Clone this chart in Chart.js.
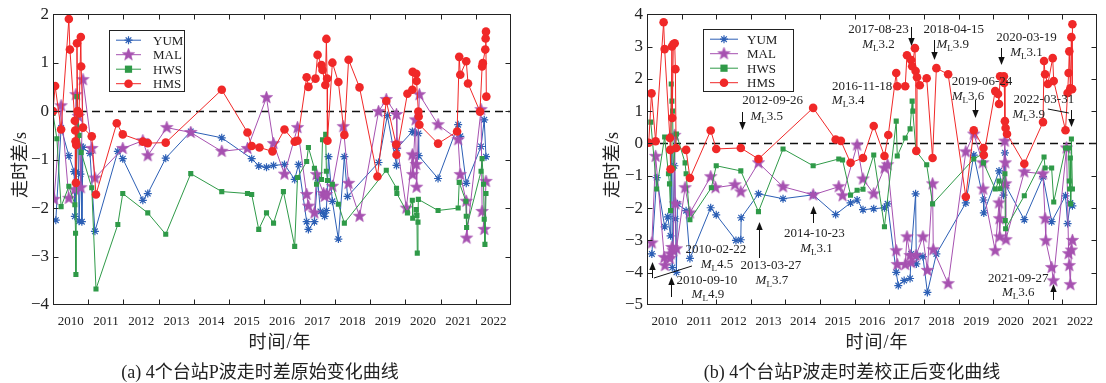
<!DOCTYPE html>
<html><head><meta charset="utf-8">
<script src="https://cdn.jsdelivr.net/npm/chart.js@4.4.1/dist/chart.umd.min.js"></script>
<style>
body{margin:0;background:#fff;width:1106px;height:383px;overflow:hidden;position:relative;}
canvas{position:absolute;top:0}
#ca{left:0px} #cb{left:600px}
.t{position:absolute;white-space:nowrap;color:#222;font-family:"Liberation Serif","Noto Sans CJK SC",serif;transform:translate(-50%,-50%);}
.rot{transform:translate(-50%,-50%) rotate(-90deg);}
</style></head><body>
<canvas id="ca" width="520" height="383"></canvas>
<canvas id="cb" width="506" height="383"></canvas>
<div class="t rot" style="left:18px;top:165px;font-size:18px">走时差/s</div>
<div class="t rot" style="left:610px;top:165px;font-size:18px">走时差/s</div>
<div class="t" style="left:280px;top:340px;font-size:18px;letter-spacing:1px">时间/年</div>
<div class="t" style="left:877px;top:340px;font-size:18px;letter-spacing:1px">时间/年</div>
<div class="t" style="left:260px;top:370px;font-size:18px">(a) 4个台站P波走时差原始变化曲线</div>
<div class="t" style="left:852px;top:370px;font-size:18px">(b) 4个台站P波走时差校正后变化曲线</div>
<script>
// ---------- DATA ----------
const stationNames = ['YUM','MAL','HWS','HMS'];
const yearTicksA = [2010,2011,2012,2013,2014,2015,2016,2017,2018,2019,2020,2021,2022,2023];

// Panel (a): raw travel-time differences [decimal year, seconds]
const yumA = [[2010.08,-2.25],[2010.23,-0.35],[2010.45,-0.92],[2010.60,-1.25],[2010.62,-2.17],[2010.66,-1.25],[2010.70,-0.05],[2010.74,-2.27],[2010.78,-1.3],[2010.80,-0.73],[2010.82,-2.28],[2010.85,-0.75],[2011.05,-0.87],[2011.19,-2.48],[2011.84,-0.83],[2011.98,-0.98],[2012.55,-1.84],[2012.69,-1.7],[2013.20,-0.97],[2013.91,-0.42],[2014.79,-0.55],[2015.64,-0.98],[2015.84,-1.13],[2016.06,-1.16],[2016.26,-1.12],[2016.57,-1.1],[2016.86,-1.41],[2016.97,-1.1],[2017.20,-2.28],[2017.25,-2.44],[2017.42,-2.28],[2017.51,-1.39],[2017.59,-2.07],[2017.68,-2.11],[2017.71,-2.17],[2017.76,-2.05],[2017.82,-0.94],[2017.93,-1.86],[2018.10,-2.64],[2018.27,-0.94],[2018.36,-1.76],[2019.24,-1.06],[2019.49,-0.09],[2019.75,-1.12],[2019.76,-0.77],[2020.20,-0.42],[2020.25,-0.44],[2020.37,-0.46],[2020.38,-0.92],[2020.93,-1.39],[2021.50,-0.28],[2021.56,-0.52],[2021.73,-1.49],[2022.15,-0.73],[2022.24,-0.18],[2022.29,-0.94]];
const malA = [[2010.03,-1.82],[2010.23,0.11],[2010.45,-1.80],[2010.62,-1.62],[2010.65,0.34],[2010.72,-0.11],[2010.79,-1.58],[2010.85,0.65],[2011.10,-0.77],[2011.19,-1.38],[2011.98,-0.77],[2012.55,-0.61],[2012.69,-0.92],[2013.23,-0.34],[2013.91,-0.44],[2014.79,-0.83],[2015.52,-0.77],[2016.06,0.28],[2016.26,-0.67],[2016.57,-1.3],[2016.94,-0.34],[2017.20,-1.72],[2017.25,-1.96],[2017.42,-2.10],[2017.48,-1.31],[2017.68,-1.70],[2017.71,-1.76],[2017.76,-1.72],[2017.93,-1.55],[2018.24,-0.32],[2018.39,-1.49],[2018.70,-2.17],[2019.24,-0.01],[2019.46,0.24],[2019.75,-0.07],[2019.76,-0.67],[2020.03,-2.0],[2020.20,-0.90],[2020.21,-1.31],[2020.29,-0.18],[2020.31,-1.10],[2020.32,-1.57],[2020.40,0.34],[2020.93,-0.28],[2021.50,-0.59],[2021.56,-1.31],[2021.73,-1.86],[2021.74,-2.62],[2022.15,0.03],[2022.18,-2.07],[2022.24,-2.44],[2022.29,-1.45]];
const hwsA = [[2010.00,-0.05],[2010.11,-0.57],[2010.23,-1.97],[2010.45,-1.55],[2010.62,-1.93],[2010.64,-2.52],[2010.65,-3.37],[2010.68,0.30],[2010.74,-0.50],[2010.80,-0.85],[2011.10,-1.58],[2011.22,-3.67],[2011.84,-2.34],[2011.98,-1.70],[2012.69,-2.10],[2013.20,-2.54],[2013.91,-1.29],[2014.79,-1.66],[2015.52,-1.70],[2015.64,-1.72],[2015.84,-2.44],[2016.06,-2.10],[2016.26,-2.31],[2016.54,-1.66],[2016.86,-2.79],[2016.94,-1.37],[2017.20,-1.04],[2017.25,-0.75],[2017.42,-1.18],[2017.48,-1.51],[2017.62,-1.41],[2017.65,-0.59],[2017.74,-0.48],[2017.76,-1.24],[2017.79,-1.43],[2017.93,-1.51],[2018.10,-1.92],[2018.27,-2.31],[2019.46,-1.22],[2019.75,-1.59],[2019.76,-1.70],[2020.06,-2.10],[2020.20,-1.84],[2020.21,-2.21],[2020.31,-2.03],[2020.33,-2.15],[2020.34,-2.93],[2020.36,-2.29],[2020.37,-1.82],[2020.93,-2.05],[2021.50,-2.00],[2021.53,-1.47],[2021.72,-1.86],[2021.73,-2.17],[2021.74,-2.40],[2022.15,-1.24],[2022.18,-0.98],[2022.22,-1.51],[2022.24,-2.23],[2022.26,-2.75],[2022.29,-1.70]];
const hmsA = [[2010.00,0.0],[2010.06,0.52],[2010.23,-0.38],[2010.45,1.9],[2010.48,1.27],[2010.62,-0.2],[2010.63,-0.4],[2010.64,-0.62],[2010.65,-1.48],[2010.66,-0.7],[2010.68,1.4],[2010.70,0.0],[2010.74,-0.05],[2010.79,1.53],[2010.80,0.92],[2010.85,-0.34],[2011.10,-0.52],[2011.22,-1.72],[2011.81,-0.25],[2011.98,-0.48],[2012.55,-0.63],[2012.69,-0.66],[2013.20,-0.65],[2014.79,0.44],[2015.52,-0.44],[2015.64,-0.72],[2015.86,-0.75],[2016.23,-0.83],[2016.57,-0.38],[2016.86,-0.63],[2016.94,-0.61],[2017.20,0.70],[2017.25,0.50],[2017.45,0.67],[2017.51,1.16],[2017.62,0.95],[2017.65,0.85],[2017.73,0.54],[2017.76,1.49],[2017.78,0.67],[2017.79,-0.61],[2017.93,1.0],[2018.10,0.6],[2018.27,-0.49],[2018.39,1.06],[2018.70,0.49],[2019.21,-1.35],[2019.46,0.21],[2019.74,-0.69],[2019.75,-0.9],[2020.06,0.36],[2020.20,0.44],[2020.21,0.81],[2020.31,0.77],[2020.32,0.62],[2020.37,-0.01],[2020.38,-0.11],[2020.40,-0.28],[2020.93,-0.67],[2021.47,-0.42],[2021.53,1.12],[2021.56,0.75],[2021.73,1.03],[2021.78,0.57],[2022.12,-0.01],[2022.18,0.92],[2022.20,0.99],[2022.27,1.27],[2022.28,1.5],[2022.29,1.64],[2022.30,0.3]];

// Panel (b): corrected travel-time differences
const yumB = [[2010.14,-3.42],[2010.28,-1.06],[2010.51,-2.58],[2010.60,-2.27],[2010.68,-2.86],[2010.72,-0.2],[2010.73,-3.84],[2010.79,-0.69],[2010.82,-2.33],[2010.85,-3.99],[2010.88,-1.87],[2011.13,-2.08],[2011.24,-3.56],[2011.84,-1.99],[2012.0,-2.21],[2012.57,-3.0],[2012.71,-2.98],[2012.72,-2.3],[2013.22,-1.56],[2013.93,-1.71],[2014.80,-1.59],[2015.45,-2.2],[2015.88,-1.84],[2016.07,-1.75],[2016.24,-2.05],[2016.55,-2.02],[2016.86,-1.99],[2016.95,-1.87],[2017.20,-3.99],[2017.26,-4.4],[2017.43,-4.24],[2017.60,-4.18],[2017.63,-3.42],[2017.76,-1.56],[2017.78,-3.73],[2017.82,-3.47],[2017.97,-3.5],[2018.10,-4.61],[2018.36,-3.42],[2019.21,-1.84],[2019.44,-0.36],[2019.72,-1.75],[2019.73,-2.15],[2020.17,-0.85],[2020.30,-1.6],[2020.34,-0.29],[2020.36,-1.3],[2020.9,-2.36],[2021.44,-1.03],[2021.69,-2.42],[2022.09,-1.62],[2022.15,-2.48],[2022.23,-1.84],[2022.29,-1.93]];
const malB = [[2010.14,-3.08],[2010.25,-0.4],[2010.50,-3.53],[2010.52,-3.78],[2010.66,-3.56],[2010.68,-3.42],[2010.72,-3.22],[2010.76,-3.32],[2010.80,0.25],[2010.82,-1.87],[2010.85,-3.26],[2011.10,-1.37],[2011.24,-2.15],[2011.84,-1.03],[2011.98,-1.37],[2012.54,-1.28],[2012.71,-1.5],[2013.22,-0.6],[2013.93,-1.34],[2014.80,-1.59],[2015.54,-1.34],[2015.65,-1.62],[2016.07,-0.05],[2016.24,-1.1],[2016.55,-1.56],[2016.86,-0.76],[2016.95,-0.66],[2017.20,-3.32],[2017.23,-3.75],[2017.46,-3.75],[2017.51,-2.89],[2017.60,-3.47],[2017.63,-3.69],[2017.77,-3.47],[2017.97,-2.89],[2018.10,-3.93],[2018.25,-1.25],[2018.27,-3.29],[2018.70,-4.34],[2019.21,-0.26],[2019.44,0.29],[2019.70,-0.6],[2019.71,-1.41],[2020.06,-3.32],[2020.17,-1.84],[2020.18,-2.33],[2020.19,-2.89],[2020.34,0.07],[2020.35,-0.6],[2020.36,-1.25],[2020.37,-2.98],[2020.90,-0.88],[2021.44,-0.94],[2021.50,-2.33],[2021.52,-3.01],[2021.69,-3.84],[2021.74,-4.25],[2022.12,-0.14],[2022.18,-3.41],[2022.20,-3.78],[2022.23,-4.37],[2022.26,-3.3],[2022.29,-3.0]];
const hwsB = [[2010.11,0.66],[2010.28,-1.41],[2010.51,0.2],[2010.62,-0.94],[2010.65,-1.25],[2010.68,-2.08],[2010.70,1.84],[2010.72,1.31],[2010.74,1.0],[2010.76,-0.76],[2010.85,0.29],[2011.10,-0.6],[2011.13,-0.94],[2011.24,-2.36],[2011.86,-1.37],[2012.0,-0.69],[2012.71,-0.85],[2013.22,-2.11],[2013.93,-0.17],[2014.80,-0.69],[2015.54,-0.48],[2015.65,-0.51],[2015.88,-1.6],[2016.07,-1.45],[2016.24,-1.42],[2016.55,-0.36],[2016.86,-2.58],[2017.20,0.69],[2017.23,-0.39],[2017.46,0.17],[2017.60,0.45],[2017.66,1.31],[2017.68,1.0],[2017.77,-0.23],[2018.08,-0.66],[2018.25,-1.87],[2019.44,-0.48],[2019.70,-0.32],[2019.72,-0.6],[2020.06,-1.41],[2020.17,-1.16],[2020.20,-1.4],[2020.34,-0.94],[2020.35,-2.39],[2020.36,-2.64],[2020.90,-1.62],[2021.47,-0.42],[2021.50,-0.76],[2021.69,-0.76],[2021.75,-1.81],[2022.09,-0.14],[2022.18,-0.14],[2022.20,-1.16],[2022.21,-1.41],[2022.23,-0.45],[2022.24,-1.87],[2022.26,0.14],[2022.29,-1.41]];
const hmsB = [[2010.05,0.02],[2010.13,1.55],[2010.25,0.07],[2010.48,3.75],[2010.51,2.92],[2010.66,0.17],[2010.67,-0.2],[2010.68,-0.8],[2010.72,3.0],[2010.73,0.79],[2010.76,3.07],[2010.80,3.1],[2010.82,2.3],[2010.84,-0.14],[2011.13,-0.2],[2011.24,-1.07],[2011.84,0.4],[2012.0,-0.17],[2012.71,-0.14],[2013.22,-0.48],[2014.8,1.1],[2015.45,0.12],[2015.6,0.08],[2015.88,-0.6],[2016.24,-0.45],[2016.55,0.54],[2016.86,-0.39],[2016.97,0.26],[2017.2,2.18],[2017.23,1.77],[2017.46,1.77],[2017.51,2.73],[2017.63,2.58],[2017.66,2.39],[2017.74,2.95],[2017.76,2.24],[2017.78,-0.23],[2017.80,2.05],[2017.88,1.8],[2018.08,2.02],[2018.25,-0.45],[2018.36,2.33],[2018.7,2.14],[2019.21,-1.65],[2019.44,0.41],[2019.72,-0.14],[2019.73,-0.36],[2020.06,1.62],[2020.14,1.53],[2020.17,1.22],[2020.2,2.08],[2020.31,2.08],[2020.32,1.87],[2020.34,0.69],[2020.36,0.48],[2020.4,0.29],[2020.9,-0.63],[2021.44,0.66],[2021.47,2.55],[2021.5,2.14],[2021.58,1.84],[2021.72,2.64],[2021.75,1.93],[2022.09,0.41],[2022.15,1.56],[2022.18,2.18],[2022.2,2.85],[2022.23,1.71],[2022.26,3.29],[2022.28,1.68],[2022.29,3.69]];

// Earthquake events annotated in panel (b)
const eventDates = ['2010-02-22','2010-09-10','2012-09-26','2013-03-27','2014-10-23','2016-11-18','2017-08-23','2018-04-15','2019-06-24','2020-03-19','2021-09-27','2022-03-31'];
const eventMags = ['4.5','4.9','3.5','3.7','3.1','3.4','3.2','3.9','3.6','3.1','3.6','3.9'];

// ---------- LAYOUT / STYLE ----------
const eventLayout = [
 {tdx:64, ty:250, mdx:65, my:265, a:[278,262], lead:[2,278,40,266]},
 {tdx:36, ty:281, mdx:37, my:295, a:[297,277]},
 {tdx:31, ty:101, mdx:25, my:117, a:[112,130]},
 {tdx:12, ty:266, mdx:13, my:281, a:[258,222]},
 {tdx:1, ty:234, mdx:3, my:249, a:[223,206]},
 {tdx:-23, ty:87, mdx:-37, my:101, a:null},
 {tdx:-33, ty:30, mdx:-33, my:45, a:[27,46]},
 {tdx:20, ty:30, mdx:19, my:45, a:[40,60]},
 {tdx:7, ty:82, mdx:-7, my:97, a:[100,118]},
 {tdx:26, ty:38, mdx:26, my:53, a:[48,65]},
 {tdx:-35, ty:279, mdx:-35, my:293, a:[300,284]},
 {tdx:-27, ty:100, mdx:-42, my:115, a:[110,127], lead:[-23,109,-2,113]}
];
const colors = {YUM:'#2c5fb5', MAL:'#a651b0', HWS:'#2f9a48', HMS:'#f02828'};
const SERIF = '"Liberation Serif", serif';

function starImg(color, r){
  const s = Math.ceil(r*2+2), c = document.createElement('canvas');
  c.width = c.height = s; const g = c.getContext('2d');
  g.beginPath();
  for(let i=0;i<10;i++){const a=-Math.PI/2+i*Math.PI/5, rr=i%2? r*0.42:r; g.lineTo(s/2+rr*Math.cos(a), s/2+rr*Math.sin(a));}
  g.closePath(); g.fillStyle=color; g.fill(); g.strokeStyle=color; g.lineWidth=0.6; g.stroke();
  return c;
}
const malStar = starImg(colors.MAL, 6.5);

function toXY(arr){ return arr.map(p=>({x:p[0], y:p[1]})); }
function makeDatasets(yum, mal, hws, hms){
  return [
    {label:'YUM', data:toXY(yum), borderColor:colors.YUM, backgroundColor:colors.YUM, borderWidth:1, pointStyle:'star', pointRadius:4, pointBorderWidth:1.2, pointBorderColor:colors.YUM, order:3},
    {label:'MAL', data:toXY(mal), borderColor:colors.MAL, backgroundColor:colors.MAL, borderWidth:1, pointStyle:malStar, pointRadius:6, order:2},
    {label:'HWS', data:toXY(hws), borderColor:colors.HWS, backgroundColor:colors.HWS, borderWidth:1, pointStyle:'rect', pointRadius:3.6, pointBorderWidth:0, order:1},
    {label:'HMS', data:toXY(hms), borderColor:colors.HMS, backgroundColor:colors.HMS, borderWidth:1, pointStyle:'circle', pointRadius:4.3, pointBorderWidth:0, order:0}
  ];
}

function drawMarker(ctx, name, x, y){
  const c = colors[name];
  ctx.save(); ctx.fillStyle=c; ctx.strokeStyle=c;
  if(name==='YUM'){ ctx.lineWidth=1.2; const r=4; ctx.beginPath();
    for(let k=0;k<4;k++){const a=k*Math.PI/4; ctx.moveTo(x-r*Math.cos(a),y-r*Math.sin(a)); ctx.lineTo(x+r*Math.cos(a),y+r*Math.sin(a));}
    ctx.stroke(); }
  else if(name==='MAL'){ ctx.drawImage(malStar, x-malStar.width/2, y-malStar.height/2); }
  else if(name==='HWS'){ ctx.fillRect(x-3.6,y-3.6,7.2,7.2); }
  else { ctx.beginPath(); ctx.arc(x,y,4.3,0,Math.PI*2); ctx.fill(); }
  ctx.restore();
}

function decYear(s){ const [Y,M,D]=s.split('-').map(Number); const a=Date.UTC(Y,0,1), b=Date.UTC(Y+1,0,1); return Y+(Date.UTC(Y,M-1,D)-a)/(b-a); }

function drawML(ctx, cx, y, mag){
  ctx.save(); ctx.textBaseline='middle'; ctx.fillStyle='#222';
  const fM='italic 13px '+SERIF, fL='9px '+SERIF, fN='13px '+SERIF;
  ctx.font=fM; const wM=ctx.measureText('M').width;
  ctx.font=fL; const wL=ctx.measureText('L').width;
  ctx.font=fN; const wN=ctx.measureText(mag).width;
  let x = cx-(wM+wL+wN)/2;
  ctx.textAlign='left';
  ctx.font=fM; ctx.fillText('M',x,y); x+=wM;
  ctx.font=fL; ctx.fillText('L',x,y+4); x+=wL;
  ctx.font=fN; ctx.fillText(mag,x,y);
  ctx.restore();
}
function arrow(ctx, x, y1, y2){
  const dir = y2>y1?1:-1;
  ctx.beginPath(); ctx.moveTo(x,y1); ctx.lineTo(x,y2-dir*6); ctx.stroke();
  ctx.beginPath(); ctx.moveTo(x,y2); ctx.lineTo(x-3.2,y2-dir*8); ctx.lineTo(x+3.2,y2-dir*8); ctx.closePath(); ctx.fill();
}

function decoPlugin(legendBox, withEvents){
  return {
    id:'deco',
    beforeDatasetsDraw(chart){
      const {ctx, chartArea:a, scales:{y}} = chart;
      const y0 = Math.round(y.getPixelForValue(0))+0.5;
      ctx.save(); ctx.strokeStyle='#111'; ctx.lineWidth=1.4; ctx.setLineDash([8,5]);
      ctx.beginPath(); ctx.moveTo(a.left,y0); ctx.lineTo(a.right,y0); ctx.stroke(); ctx.restore();
    },
    afterDatasetsDraw(chart){
      const {ctx, chartArea:a, scales:{x,y}} = chart;
      ctx.save();
      ctx.strokeStyle='#222'; ctx.lineWidth=1;
      const L=Math.round(a.left)+0.5, R=Math.round(a.right)-0.5, T=Math.round(a.top)+0.5, B=Math.round(a.bottom)-0.5;
      ctx.strokeRect(L,T,R-L,B-T);
      ctx.beginPath();
      x.ticks.forEach(t=>{ const px=Math.round(x.getPixelForValue(t.value))+0.5; if(px<=L+1||px>=R-1) return;
        ctx.moveTo(px,B); ctx.lineTo(px,B-5); ctx.moveTo(px,T); ctx.lineTo(px,T+5); });
      y.ticks.forEach(t=>{ const py=Math.round(y.getPixelForValue(t.value))+0.5; if(py<=T+1||py>=B-1) return;
        ctx.moveTo(L,py); ctx.lineTo(L+5,py); ctx.moveTo(R,py); ctx.lineTo(R-5,py); });
      ctx.stroke();
      // legend
      const lb = legendBox;
      const bx=a.left+lb.dx, by=a.top+lb.dy;
      ctx.fillStyle='#fff'; ctx.fillRect(bx,by,lb.w,lb.h);
      ctx.strokeStyle='#222'; ctx.strokeRect(Math.round(bx)+0.5,Math.round(by)+0.5,lb.w,lb.h);
      ctx.font='13px '+SERIF; ctx.textBaseline='middle'; ctx.textAlign='left';
      stationNames.forEach((n,i)=>{
        const yy = by+lb.row0+i*lb.rowH;
        ctx.strokeStyle=colors[n]; ctx.lineWidth=1;
        ctx.beginPath(); ctx.moveTo(bx+lb.l0,yy); ctx.lineTo(bx+lb.l1,yy); ctx.stroke();
        drawMarker(ctx,n,bx+(lb.l0+lb.l1)/2,yy);
        ctx.fillStyle='#222'; ctx.fillText(n,bx+lb.tx,yy+1);
      });
      // events
      if(withEvents){
        ctx.strokeStyle='#111'; ctx.fillStyle='#111'; ctx.lineWidth=1;
        eventDates.forEach((d,i)=>{
          const lay=eventLayout[i]; const ax=x.getPixelForValue(decYear(d));
          ctx.font='13px '+SERIF; ctx.textAlign='center'; ctx.textBaseline='middle'; ctx.fillStyle='#222';
          ctx.fillText(d, ax+lay.tdx, lay.ty);
          drawML(ctx, ax+lay.mdx, lay.my, eventMags[i]);
          ctx.fillStyle='#111';
          if(lay.a) arrow(ctx, Math.round(ax)+0.5, lay.a[0], lay.a[1]);
          if(lay.lead){ ctx.beginPath(); ctx.moveTo(ax+lay.lead[0],lay.lead[1]); ctx.lineTo(ax+lay.lead[2],lay.lead[3]); ctx.stroke(); }
        });
      }
      ctx.restore();
    }
  };
}

function makeChart(id, datasets, yMin, yMax, yWidth, padRight, legendBox, withEvents, labelOffset){
  return new Chart(document.getElementById(id), {
    type:'line',
    data:{datasets},
    options:{
      responsive:false, animation:false, devicePixelRatio:1,
      layout:{padding:{top:13,right:padRight,left:0,bottom:0}},
      plugins:{legend:{display:false}, tooltip:{enabled:false}},
      elements:{line:{tension:0}},
      scales:{
        x:{type:'linear', min:yearTicksA[0], max:yearTicksA[yearTicksA.length-1],
          afterBuildTicks:s=>{ s.ticks = yearTicksA.map(v=>({value:v})); },
          afterFit:s=>{ s.height=78; },
          grid:{display:false, drawTicks:false}, border:{display:false},
          ticks:{autoSkip:false, maxRotation:0, padding:9, labelOffset:labelOffset, color:'#222',
            font:{family:SERIF, size:13},
            callback:v=> v<yearTicksA[yearTicksA.length-1] ? String(v) : ''}},
        y:{min:yMin, max:yMax,
          afterFit:s=>{ s.width=yWidth; },
          grid:{display:false, drawTicks:false}, border:{display:false},
          ticks:{stepSize:1, padding:4, color:'#222', font:{family:SERIF, size:17},
            callback:v=> (v<0?'\u2212':'')+Math.abs(v)}}
      }
    },
    plugins:[decoPlugin(legendBox, withEvents)]
  });
}

makeChart('ca', makeDatasets(yumA,malA,hwsA,hmsA), -4, 2, 53, 7,
  {dx:56, dy:16, w:75, h:61, row0:10, rowH:14.5, l0:7, l1:32, tx:44}, false, 17.7);
makeChart('cb', makeDatasets(yumB,malB,hwsB,hmsB), -5, 4, 47, 1,
  {dx:56, dy:15, w:90, h:62, row0:10, rowH:14.5, l0:7, l1:35, tx:44}, true, 17.6);
</script>
</body></html>
